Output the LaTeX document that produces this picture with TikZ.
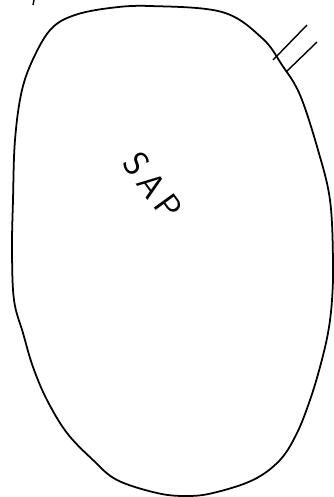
\documentclass[tikz,border=0pt]{standalone}
\begin{document}
\begin{tikzpicture}[
  x=0.03cm,y=-0.03cm,
  outline/.style={line width=1.5pt,line join=round},
  hatch/.style={line width=1.2pt},
  label/.style={font=\fontsize{30}{30}\selectfont\sffamily,inner sep=0pt}
]
\useasboundingbox (0,0) rectangle (334,497);
% sap cell
\draw[outline] plot[smooth cycle,tension=0.6] coordinates {
  (150,6) (222,12) (262,38) (282,65) (300,95) (318,150) (330,200)
  (333,260) (332,300) (328,333) (320,367) (310,400) (297,433)
  (280,460) (253,480) (213,493) (186,496) (157,493) (117,480)
  (93,460) (67,433) (47,400) (33,367) (23,333) (14,300) (12,250)
  (13,200) (15,140) (22,90) (35,55) (52,28) (75,15) (110,8)};
\node[label,rotate=-54] (sap) at (153,186) {S\,A\,P};
% hatch marks
\coordinate (h1a) at (273,60);
\coordinate (h1b) at (307,25);
\coordinate (h2a) at (286,72);
\coordinate (h2b) at (317,42);
\draw[hatch] (h1a) -- (h1b);
\draw[hatch] (h2a) -- (h2b);
% stray tick
\coordinate (t1) at (34,0);
\coordinate (t2) at (33,5);
\draw[hatch] (t1) -- (t2);
\end{tikzpicture}
\end{document}
